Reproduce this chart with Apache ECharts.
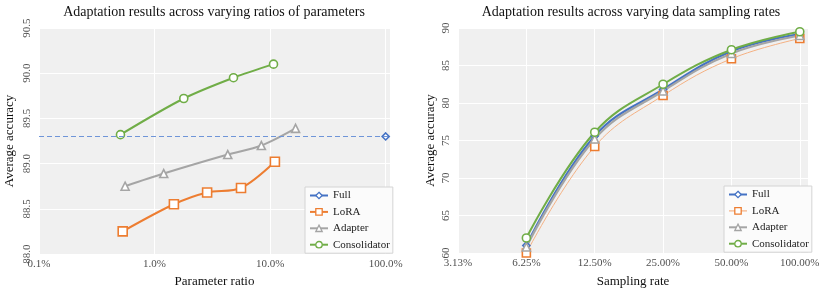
<!DOCTYPE html>
<html>
<head>
<meta charset="utf-8">
<script src="https://cdn.jsdelivr.net/npm/echarts@6/dist/echarts.min.js"></script>
<style>
html,body{margin:0;padding:0;background:#fff;}
#chart{width:830px;height:293px;}
</style>
</head>
<body>
<div id="chart"></div>
<script>
// ---- Left chart data (parameter ratio in %, average accuracy) ----
const fullRatio = [100];
const fullAcc = [89.3];
const loraRatio = [0.53, 1.47, 2.85, 5.6, 11.0];
const loraAcc = [88.25, 88.55, 88.68, 88.73, 89.02];
const adapterRatio = [0.556, 1.2, 4.3, 8.4, 16.6];
const adapterAcc = [88.75, 88.89, 89.1, 89.2, 89.39];
const consRatio = [0.507, 1.79, 4.82, 10.7];
const consAcc = [89.32, 89.72, 89.95, 90.1];

// ---- Right chart data (sampling rate in %, average accuracy) ----
const rates = [6.25, 12.5, 25, 50, 100];
const rateTicks = [3.125, 6.25, 12.5, 25, 50, 100];
const fullRate = [61.0, 75.6, 81.8, 86.9, 89.2];
const loraRate = [60.0, 74.2, 81.0, 85.9, 88.6];
const adapterRate = [60.8, 75.2, 81.6, 86.6, 89.0];
const consRate = [62.0, 76.1, 82.5, 87.1, 89.5];

const names = ['Full', 'LoRA', 'Adapter', 'Consolidator'];
const colors = {Full: '#4472C4', LoRA: '#ED7D31', Adapter: '#A5A5A5', Consolidator: '#70AD47'};
const symbols = {Full: 'diamond', LoRA: 'rect', Adapter: 'triangle', Consolidator: 'circle'};

const FONT = '"Liberation Serif", "Times New Roman", serif';
const pairs = (xs, ys) => xs.map((x, i) => [x, ys[i]]);
const log2 = v => Math.log2(v / 100);

function mk(name, data, xi, opts) {
  opts = opts || {};
  return Object.assign({
    name: name,
    type: 'line',
    xAxisIndex: xi, yAxisIndex: xi,
    data: data,
    smooth: 0.3,
    symbol: symbols[name],
    symbolSize: opts.size || 8,
    showAllSymbol: true,
    itemStyle: {color: '#fff', borderColor: colors[name], borderWidth: 1.6},
    lineStyle: {color: opts.lineColor || colors[name], width: opts.width || 2},
    emphasis: {disabled: true},
    z: opts.z || 2
  }, opts.extra || {});
}

const legendCommon = {
  orient: 'vertical',
  backgroundColor: '#fbfbfb',
  borderColor: '#d4d4d4',
  borderWidth: 1,
  borderRadius: 0,
  padding: [3, 3, 3, 4],
  itemWidth: 18,
  itemHeight: 8,
  itemGap: 5.4,
  textStyle: {fontFamily: FONT, fontSize: 11, color: '#222'}
};

function legendData(lightLora) {
  return names.map(n => ({
    name: n,
    itemStyle: {color: '#fff', borderColor: colors[n], borderWidth: 1.3},
    lineStyle: {type: 'solid', color: (lightLora && n === 'LoRA') ? '#F4B183' : colors[n], width: (lightLora && n === 'LoRA') ? 1.2 : 2}
  }));
}

const axisLabelStyle = {fontFamily: FONT, fontSize: 11, color: '#505050'};
const nameStyle = {fontFamily: FONT, fontSize: 13, color: '#111'};

const option = {
  animation: false,
  backgroundColor: '#fff',
  title: [
    {text: 'Adaptation results across varying ratios of parameters', left: 214, top: 5, textAlign: 'center', padding: 0,
     textStyle: {fontFamily: FONT, fontSize: 14, fontWeight: 'normal', color: '#111'}},
    {text: 'Adaptation results across varying data sampling rates', left: 631, top: 5, textAlign: 'center', padding: 0,
     textStyle: {fontFamily: FONT, fontSize: 14, fontWeight: 'normal', color: '#111'}}
  ],
  legend: [
    Object.assign({}, legendCommon, {left: 305, top: 187, data: legendData(false)}),
    Object.assign({}, legendCommon, {left: 724, top: 186, data: legendData(true)})
  ],
  grid: [
    {left: 39, top: 28, width: 351, height: 230, show: true, backgroundColor: '#f0f0f0', borderWidth: 0, containLabel: false},
    {left: 458, top: 28, width: 350, height: 230, show: true, backgroundColor: '#f0f0f0', borderWidth: 0, containLabel: false}
  ],
  xAxis: [
    {
      type: 'log', gridIndex: 0, logBase: 10, min: 0.1, max: 109,
      name: 'Parameter ratio', nameLocation: 'middle', nameGap: 21, nameTextStyle: nameStyle,
      axisLine: {show: false}, axisTick: {show: false}, minorTick: {show: false},
      axisLabel: Object.assign({}, axisLabelStyle, {
        margin: 5, showMaxLabel: true,
        formatter: v => {
          const l = Math.log10(v);
          return Math.abs(l - Math.round(l)) < 1e-6 ? v.toFixed(1) + '%' : '';
        }
      }),
      splitLine: {show: true, lineStyle: {color: '#ffffff', width: 1}}
    },
    {
      type: 'value', gridIndex: 1, min: log2(rateTicks[0]), max: 0.12, interval: 1,
      name: 'Sampling rate', nameLocation: 'middle', nameGap: 22, nameTextStyle: nameStyle,
      axisLine: {show: false}, axisTick: {show: false},
      axisLabel: Object.assign({}, axisLabelStyle, {
        margin: 5,
        formatter: v => Number.isInteger(Math.round(v * 1e6) / 1e6) ? (100 * Math.pow(2, Math.round(v))).toFixed(2) + '%' : ''
      }),
      splitLine: {show: true, lineStyle: {color: '#ffffff', width: 1}}
    }
  ],
  yAxis: [
    {
      type: 'value', gridIndex: 0, min: 88, max: 90.5, interval: 0.5,
      name: 'Average accuracy', nameLocation: 'middle', nameGap: 23, nameRotate: 90, nameTextStyle: nameStyle,
      axisLine: {show: false}, axisTick: {show: false},
      axisLabel: Object.assign({}, axisLabelStyle, {rotate: 90, margin: 6, formatter: v => v.toFixed(1)}),
      splitLine: {show: true, lineStyle: {color: '#ffffff', width: 1}}
    },
    {
      type: 'value', gridIndex: 1, min: 60, max: 90, interval: 5,
      name: 'Average accuracy', nameLocation: 'middle', nameGap: 21, nameRotate: 90, nameTextStyle: nameStyle,
      axisLine: {show: false}, axisTick: {show: false},
      axisLabel: Object.assign({}, axisLabelStyle, {rotate: 90, margin: 6}),
      splitLine: {show: true, lineStyle: {color: '#ffffff', width: 1}}
    }
  ],
  series: [
    // left
    mk('Full', pairs(fullRatio, fullAcc), 0, {size: 7, extra: {
      markLine: {
        silent: true, symbol: 'none', label: {show: false},
        lineStyle: {type: [5, 3], color: '#6f95d8', width: 1},
        data: [{yAxis: fullAcc[0]}]
      }
    }}),
    mk('LoRA', pairs(loraRatio, loraAcc), 0, {size: 9}),
    mk('Adapter', pairs(adapterRatio, adapterAcc), 0, {size: 8}),
    mk('Consolidator', pairs(consRatio, consAcc), 0, {size: 8}),
    // right
    mk('Full', pairs(rates.map(log2), fullRate), 1, {size: 7, width: 2.2, extra: {smooth: 0.4}}),
    mk('LoRA', pairs(rates.map(log2), loraRate), 1, {size: 8, width: 1, lineColor: '#F4B183', extra: {smooth: 0.4}}),
    mk('Adapter', pairs(rates.map(log2), adapterRate), 1, {size: 8, width: 2.2, extra: {smooth: 0.4}}),
    mk('Consolidator', pairs(rates.map(log2), consRate), 1, {size: 8, width: 2, extra: {smooth: 0.4}})
  ]
};

const chart = echarts.init(document.getElementById('chart'), null, {renderer: 'canvas', width: 830, height: 293});
chart.setOption(option);
</script>
</body>
</html>
